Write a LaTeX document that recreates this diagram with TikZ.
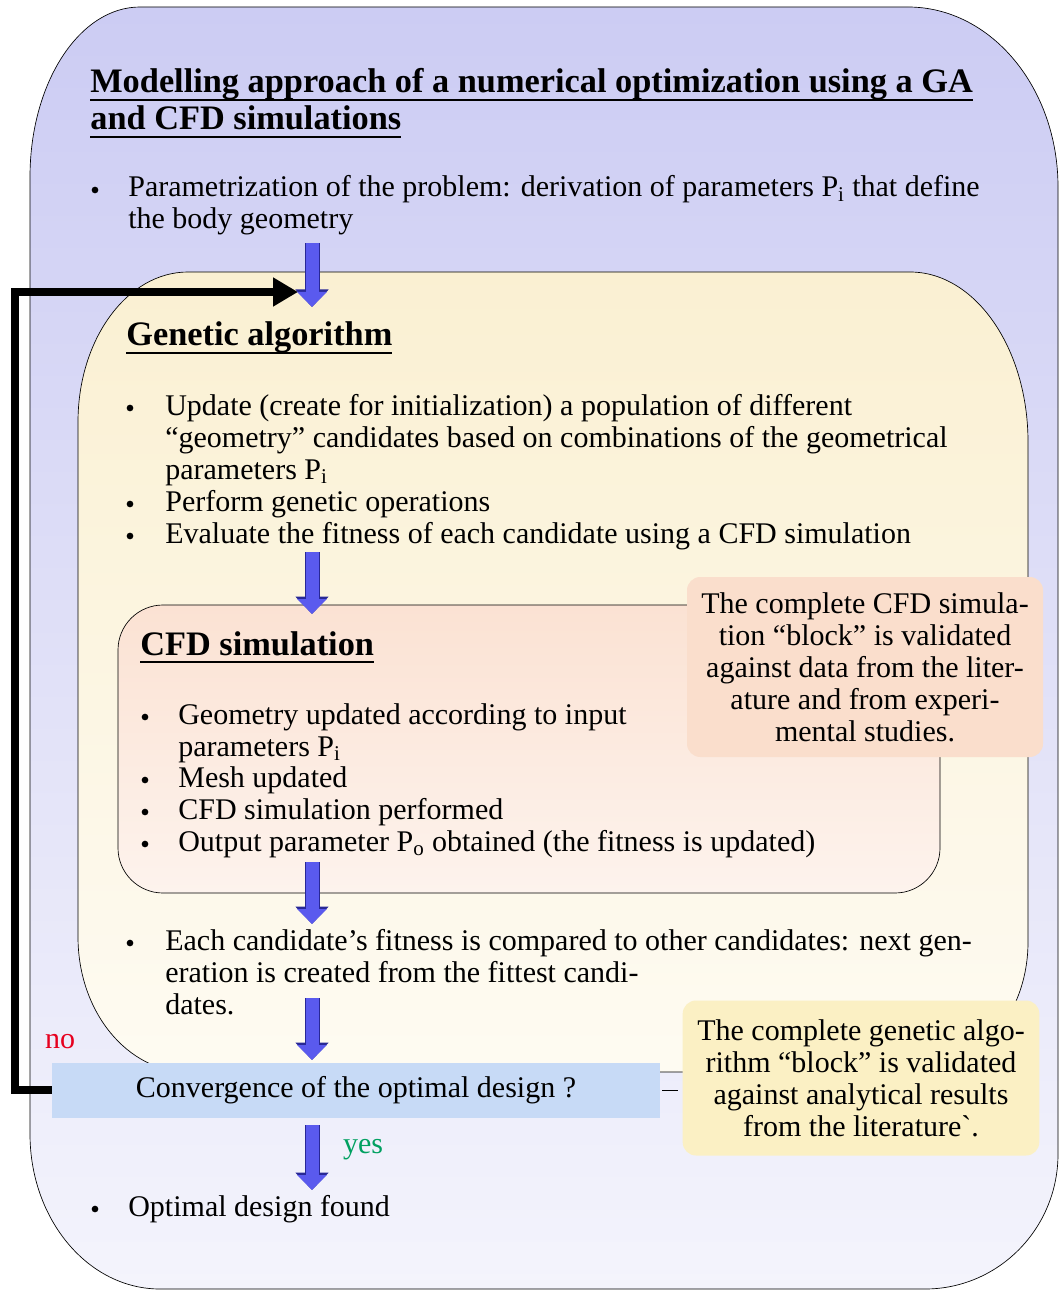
\documentclass[tikz,border=0pt]{standalone}
\usepackage{fontspec}
\setmainfont{Liberation Serif}
\usepackage{tikz}
\usepackage{xcolor}
\usetikzlibrary{positioning}
\usetikzlibrary{arrows.meta}
\newcommand{\thickul}[1]{\setbox0\hbox{#1}\rlap{\rule[-4.6pt]{\wd0}{1.2pt}}\box0}
\definecolor{outertop}{RGB}{204,204,243}
\definecolor{outerbot}{RGB}{244,244,252}
\definecolor{gatop}{RGB}{250,240,210}
\definecolor{gabot}{RGB}{254,251,242}
\definecolor{cfdtop}{RGB}{251,226,211}
\definecolor{cfdbot}{RGB}{253,243,237}
\definecolor{cfdnote}{RGB}{250,222,204}
\definecolor{ganote}{RGB}{251,240,196}
\definecolor{convblue}{RGB}{199,218,246}
\definecolor{flowblue}{RGB}{90,90,238}
\definecolor{flowedge}{RGB}{40,40,150}
\definecolor{nored}{RGB}{230,0,30}
\definecolor{yesgreen}{RGB}{0,160,96}
\tikzstyle{txt}=[inner sep=0pt, anchor=base west, align=left, font=\fontsize{18}{19.2}\selectfont]
\tikzstyle{heading}=[inner sep=0pt, anchor=base west, align=left, font=\fontsize{20.6}{22.2}\selectfont\bfseries]
\tikzstyle{dot}=[circle, fill=black, inner sep=0pt, minimum size=4pt]
\tikzstyle{flow}=[draw=flowblue, line width=7.8pt, -{Triangle[width=17.4pt,length=9pt]},
  preaction={draw=flowedge, line width=9pt, -{Triangle[width=19.4pt,length=10.5pt]}}]
\tikzstyle{noloop}=[draw=black, line width=5.1pt, -{Triangle[width=16.5pt,length=15pt]}]
\tikzstyle{valid}=[rounded corners=8pt, inner sep=0pt, align=center, font=\fontsize{18}{19.2}\selectfont]

\begin{document}
\begin{tikzpicture}[x=0.6pt, y=-0.6pt]
    \useasboundingbox (0,0) rectangle (1061,1291);

    % outer block
    \path[draw=black, thin, top color=outertop, bottom color=outerbot]
      (140,7) -- (908,7) arc[start angle=270, end angle=360, x radius=150, y radius=180]
      -- (1058,1154) arc[start angle=0, end angle=90, x radius=133, y radius=135]
      -- (160,1289) arc[start angle=90, end angle=180, x radius=130, y radius=155]
      -- (30,177) arc[start angle=180, end angle=270, x radius=110, y radius=170] -- cycle;

    % genetic algorithm block
    \path[draw=black, thin, top color=gatop, bottom color=gabot]
      (188,272) -- (910,272) arc[start angle=270, end angle=360, x radius=118, y radius=170]
      -- (1028,942) arc[start angle=0, end angle=90, x radius=110, y radius=130]
      -- (188,1072) arc[start angle=90, end angle=180, x radius=110, y radius=135]
      -- (78,422) arc[start angle=180, end angle=270, x radius=110, y radius=150] -- cycle;

    % CFD block
    \path[draw=black, thin, rounded corners=27pt, shading angle=225, top color=cfdtop, bottom color=cfdbot]
      (118,605) rectangle (940,893);

    % multi-line nodes sit on the baseline of their last line
    \node[heading] (title) at (90,130) {\thickul{Modelling approach of a numerical optimization using a GA}\\\thickul{and CFD simulations}};
    \node[dot] (d0) at (95,190) {};
    \node[txt] (param) at (128,229) {Parametrization of the problem: derivation of parameters P\textsubscript{i} that define\\the body geometry};

    \node[heading] (gahead) at (126,346) {\thickul{Genetic algorithm}};
    \node[dot] (d1) at (130,408) {};
    \node[txt] (update) at (165,479) {Update (create for initialization) a population of different\\``geometry'' candidates based on combinations of the geometrical\\parameters P\textsubscript{i}};
    \node[dot] (d2) at (130,504) {};
    \node[txt] (genop) at (165,511) {Perform genetic operations};
    \node[dot] (d3) at (130,536) {};
    \node[txt] (evaluate) at (165,543) {Evaluate the fitness of each candidate using a CFD simulation};

    \node[heading] (cfdhead) at (140,655) {\thickul{CFD simulation}};
    \node[dot] (d4) at (145,717) {};
    \node[txt] (geom) at (178,756) {Geometry updated according to input\\parameters P\textsubscript{i}};
    \node[dot] (d5) at (145,780) {};
    \node[txt] (mesh) at (178,787) {Mesh updated};
    \node[dot] (d6) at (145,812) {};
    \node[txt] (perform) at (178,819) {CFD simulation performed};
    \node[dot] (d7) at (145,844) {};
    \node[txt] (output) at (178,851) {Output parameter P\textsubscript{o} obtained (the fitness is updated)};

    \node[dot] (d8) at (130,943) {};
    \node[txt] (compare) at (165,1014) {Each candidate's fitness is compared to other candidates: next gen-\\eration is created from the fittest candi-\\dates.};

    \node[dot] (d9) at (95,1209) {};
    \node[txt] (found) at (128,1216) {Optimal design found};

    \node[txt, anchor=base, text=nored] (no) at (60,1048) {no};
    \node[txt, anchor=base, text=yesgreen] (yes) at (363,1153) {yes};

    % loop back
    \node[fill=convblue, minimum width=364.8pt, minimum height=33pt, inner sep=0pt,
          font=\fontsize{18}{19.2}\selectfont] (conv) at (356,1090) {Convergence of the optimal design ?};
    \coordinate (loopup) at (15,292);
    \coordinate (gain) at (298,292);
    \draw[noloop] (conv.west) -| (loopup) -- (gain);

    % flow arrows
    \coordinate (f1a) at (312,243);  \coordinate (f1b) at (312,307);
    \coordinate (f2a) at (312,552);  \coordinate (f2b) at (312,614);
    \coordinate (f3a) at (312,862);  \coordinate (f3b) at (312,924);
    \coordinate (f4a) at (312,998);  \coordinate (f4b) at (312,1060);
    \coordinate (f5a) at (312,1125); \coordinate (f5b) at (312,1190);
    \draw[flow] (f1a) -- (f1b);
    \draw[flow] (f2a) -- (f2b);
    \draw[flow] (f3a) -- (f3b);
    \draw[flow] (f4a) -- (f4b);
    \draw[flow] (f5a) -- (f5b);

    % validation notes
    \node[valid, fill=cfdnote, minimum width=213.6pt, minimum height=108pt] (cfdvalid) at (865,667)
      {The complete CFD simula-\\tion ``block'' is validated\\against data from the liter-\\ature and from experi-\\mental studies.};
    \node[valid, fill=ganote, minimum width=214pt, minimum height=93pt] (gavalid) at (861,1078)
      {The complete genetic algo-\\rithm ``block'' is validated\\against analytical results\\from the literature\textasciigrave.};
    \draw[thin, shorten <=1.2pt, shorten >=2.4pt] (conv.east) -- (conv.east -| gavalid.west);
\end{tikzpicture}
\end{document}
